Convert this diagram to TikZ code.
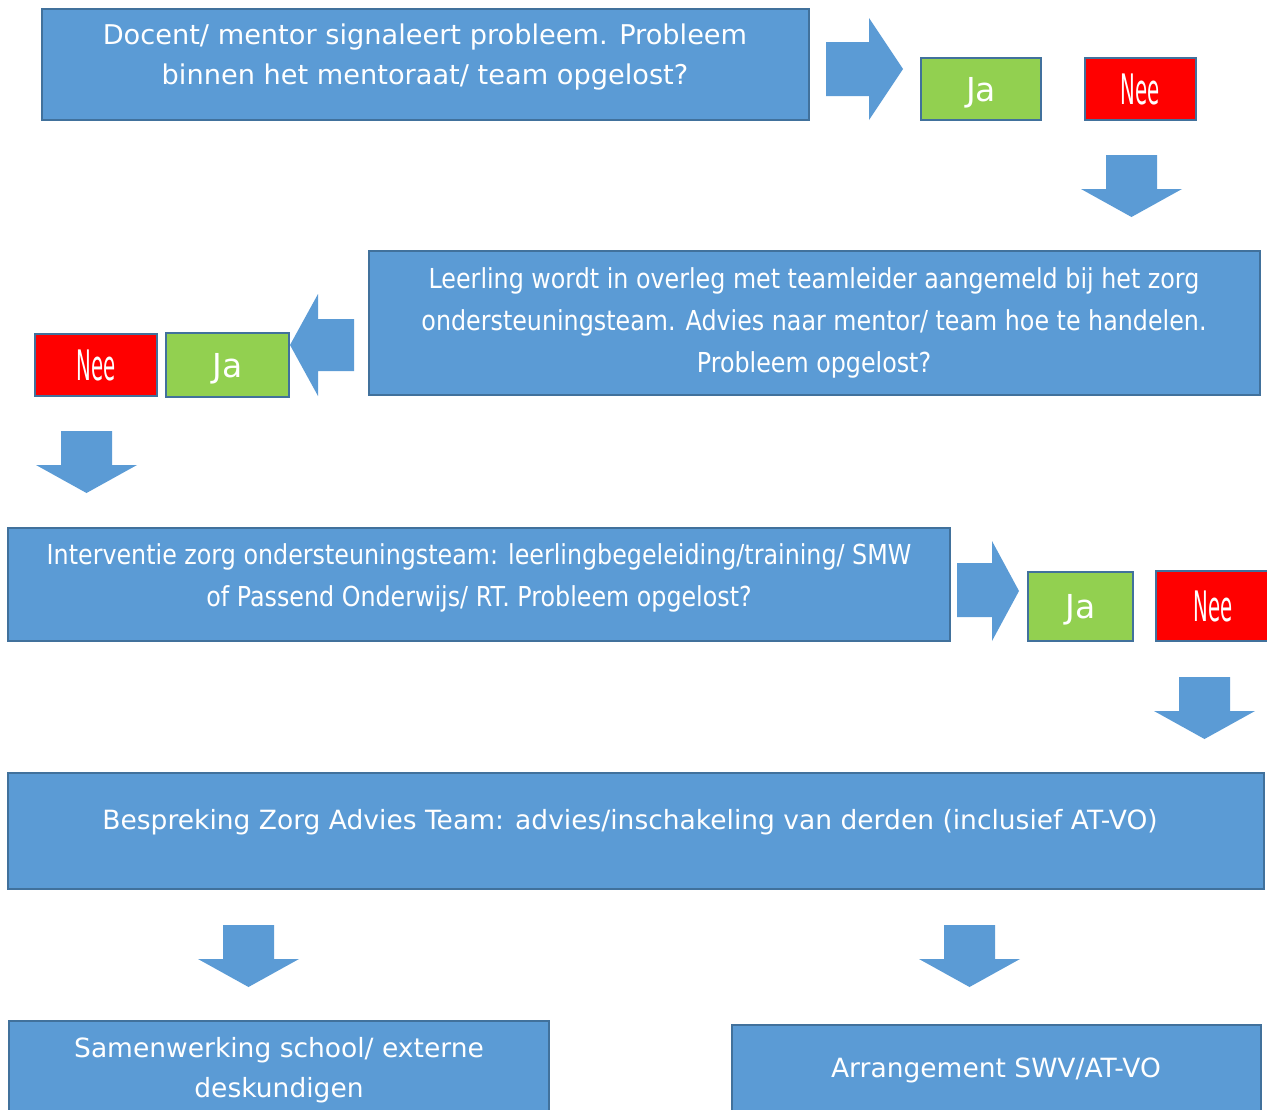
\documentclass[tikz,border=0pt]{standalone}
\usepackage{fontspec}
\setmainfont{DejaVu Sans}
\newfontfamily\smalfont[FakeStretch=0.865]{DejaVu Sans}
\newfontfamily\neefont[FakeStretch=0.47]{DejaVu Sans}
\usetikzlibrary{positioning}
\definecolor{vakblauw}{HTML}{5B9BD5}
\definecolor{randblauw}{HTML}{41719C}
\definecolor{jagroen}{HTML}{92D050}
\definecolor{neerood}{HTML}{FF0000}

\begin{document}
\begin{tikzpicture}[line join=miter,x=1pt,y=-1pt,
  vak/.style={draw=randblauw,line width=1.5pt,fill=vakblauw,inner sep=0pt},
  ja/.style={vak,fill=jagroen,text=white,text depth=0pt,font=\fontsize{33}{36}\selectfont},
  nee/.style={vak,fill=neerood,text=white,text depth=0pt,font=\neefont\fontsize{42}{44}\selectfont},
  tekst/.style={text=white,align=center,font=\fontsize{26.5}{40}\selectfont},
  smal/.style={text=white,align=center,font=\smalfont\fontsize{27.5}{42}\selectfont},
  pijl/.style={fill=vakblauw,draw=none}]
\useasboundingbox (0,0) rectangle (1267,1109);
\clip (0,0) rectangle (1267,1109);

% stap 1
\node[vak,minimum width=767,minimum height=111] (docent) at (425.5,64.5) {};
\node[tekst,font=\fontsize{27.2}{40}\selectfont] (docenttxt) at (425,57) {Docent/ mentor signaleert probleem. Probleem\\binnen het mentoraat/ team opgelost?};
\node[ja,minimum width=120,minimum height=62] (ja1) at (981,89) {Ja};
\node[nee,minimum width=111,minimum height=62] (nee1) at (1140.5,89) {Nee};
\draw[pijl] (826,42) -- (869,42) -- (869,18) -- (903,69) -- (869,120) -- (869,96) -- (826,96) -- cycle;

% stap 2
\node[vak,minimum width=891,minimum height=144] (leerling) at (814.5,323) {};
\node[smal] (leerlingtxt) at (814,323) {Leerling wordt in overleg met teamleider aangemeld bij het zorg\\ondersteuningsteam. Advies naar mentor/ team hoe te handelen.\\Probleem opgelost?};
\node[ja,minimum width=123,minimum height=64] (ja2) at (227.5,365) {Ja};
\node[nee,minimum width=122,minimum height=62] (nee2) at (96,365) {Nee};
\draw[pijl] (354,319) -- (318,319) -- (318,294) -- (290,345) -- (318,396) -- (318,371) -- (354,371) -- cycle;

% stap 3
\node[vak,minimum width=942,minimum height=113] (interventie) at (479,584.5) {};
\node[smal] (interventietxt) at (479,577.5) {Interventie zorg ondersteuningsteam: leerlingbegeleiding/training/ SMW\\of Passend Onderwijs/ RT. Probleem opgelost?};
\node[ja,minimum width=105,minimum height=69] (ja3) at (1080.5,606.5) {Ja};
\node[nee,minimum width=114,minimum height=70] (nee3) at (1213,606) {Nee};
\draw[pijl] (957,563) -- (992,563) -- (992,541) -- (1019,591) -- (992,641) -- (992,617) -- (957,617) -- cycle;

% stap 4
\node[vak,minimum width=1256,minimum height=116] (zat) at (636,831) {};
\node[tekst] (zattxt) at (630,822) {Bespreking Zorg Advies Team: advies/inschakeling van derden (inclusief AT-VO)};
\node[vak,minimum width=540,minimum height=104] (samenwerking) at (279,1073) {};
\node[tekst] (samenwerkingtxt) at (279,1070) {Samenwerking school/ externe\\deskundigen};
\node[vak,minimum width=529,minimum height=100] (arrangement) at (996.5,1075) {};
\node[tekst] (arrangementtxt) at (996,1070) {Arrangement SWV/AT-VO};

% pijlen omlaag
\foreach \cx/\ty in {1131.5/155,86.5/431,1204.5/677,248.5/925,969.5/925}
  \draw[pijl] (\cx-25.5,\ty) -- (\cx-25.5,\ty+34) -- (\cx-50.5,\ty+34) -- (\cx,\ty+62)
    -- (\cx+50.5,\ty+34) -- (\cx+25.5,\ty+34) -- (\cx+25.5,\ty) -- cycle;
\end{tikzpicture}
\end{document}
